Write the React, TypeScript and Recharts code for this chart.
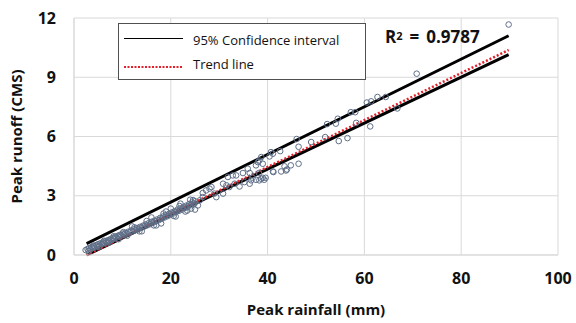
import React from 'react';
import { ComposedChart, Scatter, Line, XAxis, YAxis, CartesianGrid } from 'recharts';

// Observed events: peak rainfall (mm) vs peak runoff (CMS)
const obsRainfall = [
  2.4, 2.8, 3.1, 3.4, 3.6, 3.9, 4.1, 4.3, 4.6, 4.8, 5.0, 5.3, 5.5, 5.8, 6.0, 6.3, 6.5, 6.8, 7.0, 7.3,
  7.5, 7.8, 8.0, 8.3, 8.5, 8.8, 9.0, 9.3, 9.5, 9.8, 10.0, 10.3, 10.6, 10.9, 11.2, 11.5, 11.8, 12.1, 12.4, 12.7,
  13.0, 13.3, 13.6, 13.9, 14.2, 14.5, 14.8, 15.1, 15.4, 15.7, 16.0, 16.3, 16.6, 16.9, 17.2, 17.5, 17.8, 18.1, 18.4, 18.7,
  19.0, 19.3, 19.6, 19.9, 20.2, 20.5, 20.8, 21.1, 21.4, 21.7, 22.0, 22.3, 22.6, 22.9, 23.2, 23.5, 23.8, 24.1, 24.4, 24.7,
  25.0, 12.0, 14.0, 16.0, 18.0, 20.0, 21.0, 22.0, 23.0, 24.0, 25.0, 19.0, 17.0,
  3.0, 4.0, 5.2, 6.2, 7.2, 8.2, 9.2, 10.2, 11.0, 12.5, 13.5, 15.0, 16.5, 18.5, 20.6, 21.8, 23.4, 24.6,
  24.2, 24.9, 25.6, 26.0, 26.6, 26.6, 27.3, 28.0, 28.4, 29.0, 29.4, 30.8, 30.8, 31.5, 31.8, 32.1, 32.8, 33.2, 33.5, 34.2,
  34.9, 35.2, 35.9, 36.3, 36.3, 36.6, 36.9, 37.6, 37.6, 38.0, 38.2, 38.3, 38.3, 38.7, 38.7, 39.0, 39.0, 39.3, 39.6, 40.4,
  40.7, 41.1, 41.1, 41.2, 42.6, 42.8, 43.5, 43.8, 44.0, 44.8, 46.4,
  46.0, 46.4, 49.0, 51.9, 54.7, 56.5, 52.3, 54.1, 54.5, 57.2, 58.1, 58.3, 61.2, 60.5, 61.4, 62.7, 64.4, 66.8, 70.8, 89.8,
];
const obsRunoff = [
  0.25, 0.30, 0.35, 0.28, 0.40, 0.36, 0.45, 0.38, 0.50, 0.44, 0.55, 0.48, 0.60, 0.56, 0.64, 0.60, 0.70, 0.66, 0.75, 0.70,
  0.80, 0.76, 0.86, 0.82, 0.92, 0.88, 0.97, 0.93, 1.02, 0.98, 1.08, 1.03, 1.12, 1.08, 1.18, 1.14, 1.24, 1.20, 1.30, 1.26,
  1.36, 1.31, 1.42, 1.38, 1.48, 1.44, 1.55, 1.50, 1.61, 1.56, 1.68, 1.63, 1.74, 1.70, 1.80, 1.76, 1.88, 1.83, 1.95, 1.90,
  2.02, 1.96, 2.08, 2.04, 2.15, 2.10, 2.22, 2.18, 2.30, 2.24, 2.36, 2.30, 2.44, 2.38, 2.50, 2.45, 2.58, 2.52, 2.66, 2.60,
  2.72, 1.45, 1.20, 1.90, 1.60, 2.35, 1.95, 2.60, 2.20, 2.80, 2.30, 2.20, 1.50,
  0.20, 0.48, 0.42, 0.72, 0.62, 0.95, 0.80, 1.16, 0.98, 1.40, 1.20, 1.72, 1.50, 2.10, 1.98, 2.48, 2.25, 2.78,
  2.35, 2.60, 2.51, 2.77, 2.93, 3.14, 3.27, 3.36, 3.44, 3.11, 2.93, 3.11, 3.61, 3.53, 3.95, 3.44, 4.03, 3.61, 4.03, 3.47,
  4.15, 3.69, 4.37, 4.15, 3.61, 3.78, 3.91, 3.81, 4.54, 4.70, 4.15, 3.78, 4.79, 3.86, 4.96, 3.91, 4.62, 3.81, 3.91, 4.99,
  5.21, 5.13, 4.23, 4.20, 5.26, 4.23, 4.49, 4.28, 4.33, 4.54, 4.62,
  5.87, 5.48, 5.72, 5.97, 5.77, 5.92, 6.63, 6.65, 6.90, 7.23, 7.23, 6.69, 6.51, 7.72, 7.78, 8.00, 8.00, 7.42, 9.18, 11.67,
];

// Line end points
const upperX = [2.6, 89.8];
const upperY = [0.58, 11.1];
const lowerX = [2.6, 89.8];
const lowerY = [0.0, 10.15];
const trendX = [2.6, 89.8];
const trendY = [0.0, 10.38];

const xTicks = [0, 20, 40, 60, 80, 100];
const yTicks = [0, 3, 6, 9, 12];

const legendLabels = ['95% Confidence interval', 'Trend line'];
const r2Text = '0.9787';

const zip = (xs: number[], ys: number[]) => xs.map((x, i) => ({ x, y: ys[i] }));
const observed = zip(obsRainfall, obsRunoff);
const upper = zip(upperX, upperY);
const lower = zip(lowerX, lowerY);
const trend = zip(trendX, trendY);

const FONT = '"Open Sans", "Noto Sans", sans-serif';
const GRID = '#d9d9d9';

const OpenCircle = (p: any) => (
  <circle cx={p.cx} cy={p.cy} r={2.8} fill="none" stroke="#5f6f88" strokeWidth={1} />
);

export default function App() {
  return (
    <div style={{ position: 'absolute', left: 0, top: 0, width: 576, height: 323, background: '#fff', fontFamily: FONT }}>
      <ComposedChart width={576} height={323} margin={{ top: 18, right: 18, bottom: 0, left: 0 }}>
        <CartesianGrid stroke={GRID} strokeWidth={1} />
        <XAxis
          type="number"
          dataKey="x"
          domain={[0, 100]}
          ticks={xTicks}
          height={68}
          axisLine={{ stroke: GRID }}
          tickLine={false}
          tickSize={0}
          tickMargin={18}
          tick={{ fontSize: 16, fontWeight: 700, fill: '#111', fontFamily: FONT }}
          label={{ value: 'Peak rainfall (mm)', position: 'insideBottom', offset: 8, style: { fontSize: 15, fontWeight: 700, fill: '#111', fontFamily: FONT } }}
        />
        <YAxis
          type="number"
          dataKey="y"
          domain={[0, 12]}
          ticks={yTicks}
          width={74}
          axisLine={{ stroke: GRID }}
          tickLine={false}
          tickSize={0}
          tickMargin={18}
          tick={{ fontSize: 16, fontWeight: 700, fill: '#111', fontFamily: FONT }}
          label={{ value: 'Peak runoff (CMS)', angle: -90, position: 'insideLeft', offset: 17, style: { textAnchor: 'middle', fontSize: 15, fontWeight: 700, fill: '#111', fontFamily: FONT } }}
        />
        <Scatter data={observed} dataKey="y" shape={OpenCircle} isAnimationActive={false} legendType="none" />
        <Line data={upper} dataKey="y" stroke="#000" strokeWidth={3} dot={false} isAnimationActive={false} legendType="none" />
        <Line data={lower} dataKey="y" stroke="#000" strokeWidth={3} dot={false} isAnimationActive={false} legendType="none" />
        <Line data={trend} dataKey="y" stroke="#e0202a" strokeWidth={2.5} strokeDasharray="2 2" dot={false} isAnimationActive={false} legendType="none" />
      </ComposedChart>

      <div style={{ position: 'absolute', left: 118, top: 23, width: 246, height: 55, border: '1px solid #505050', background: '#fff' }}>
        <svg width={70} height={55} style={{ position: 'absolute', left: 0, top: 0 }}>
          <line x1={5} y1={14.5} x2={64} y2={14.5} stroke="#000" strokeWidth={1.2} />
          <line x1={5} y1={43} x2={64} y2={43} stroke="#e0202a" strokeWidth={2} strokeDasharray="2 1.5" />
        </svg>
        <div style={{ position: 'absolute', left: 74, top: 8, fontSize: 13, lineHeight: '16px', color: '#111', whiteSpace: 'nowrap' }}>{legendLabels[0]}</div>
        <div style={{ position: 'absolute', left: 74, top: 32, fontSize: 13, lineHeight: '16px', color: '#111', whiteSpace: 'nowrap' }}>{legendLabels[1]}</div>
      </div>

      <div style={{ position: 'absolute', left: 385, top: 26, fontSize: 17, fontWeight: 700, color: '#111', whiteSpace: 'nowrap', lineHeight: '22px' }}>
        R<sup style={{ fontSize: 11, verticalAlign: 'top', position: 'relative', top: -1 }}>2</sup>
        <span style={{ marginLeft: 7 }}>=</span>
        <span style={{ marginLeft: 7 }}>{r2Text}</span>
      </div>
    </div>
  );
}
